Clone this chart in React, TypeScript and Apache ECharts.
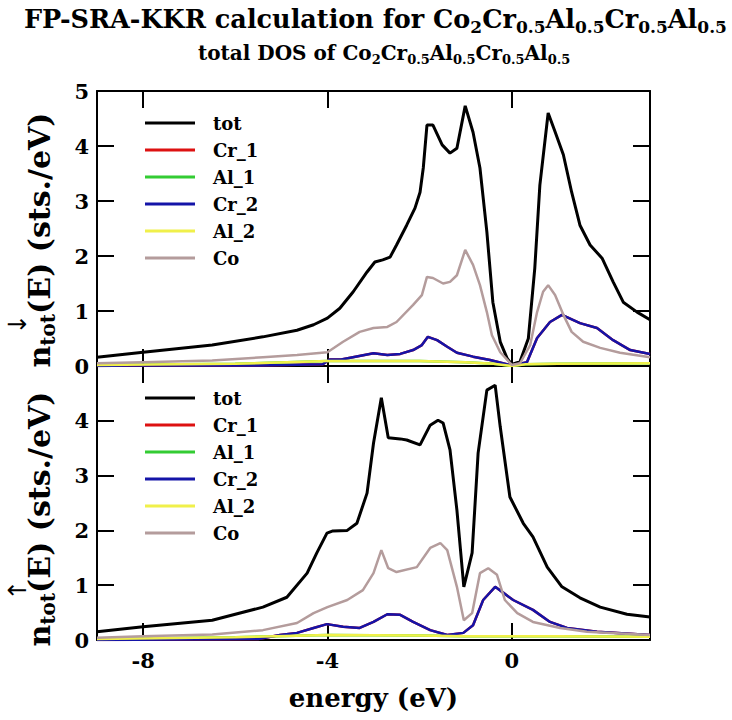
import React, { useEffect, useRef } from 'react';
import * as echarts from 'echarts';

const seriesNames = ['tot', 'Cr_1', 'Al_1', 'Cr_2', 'Al_2', 'Co'];
const seriesColors = ['#000000', '#dd1111', '#33cc33', '#1414a8', '#f0f04a', '#b49c9c'];
const seriesWidths = [3, 2.5, 2.5, 2.5, 2.5, 2.5];
const xTickValues = [-8, -4, 0];

// spin-down panel (top)
const dnTotE = [-9, -8, -6.5, -5.4, -4.66, -4.3, -4.0, -3.73, -3.44, -3.14, -2.97, -2.8, -2.64, -2.5, -2.28, -2.1, -1.99, -1.92, -1.84, -1.71, -1.51, -1.34, -1.19, -1.01, -0.84, -0.69, -0.54, -0.41, -0.25, -0.1, 0, 0.18, 0.36, 0.5, 0.61, 0.79, 0.94, 1.12, 1.3, 1.48, 1.7, 1.96, 2.2, 2.42, 2.72, 3];
const dnTotV = [0.16, 0.25, 0.38, 0.53, 0.65, 0.75, 0.87, 1.05, 1.35, 1.71, 1.89, 1.93, 1.98, 2.2, 2.56, 2.87, 3.16, 3.6, 4.38, 4.38, 4.02, 3.87, 3.96, 4.73, 4.25, 3.6, 2.44, 1.16, 0.44, 0.14, 0.03, 0.08, 0.5, 1.78, 3.29, 4.6, 4.26, 3.84, 3.16, 2.56, 2.2, 1.96, 1.53, 1.16, 0.98, 0.84];
const dnCoE = [-9, -8, -6.5, -5.4, -4.66, -4.0, -3.66, -3.3, -3.0, -2.7, -2.5, -2.14, -1.95, -1.84, -1.71, -1.49, -1.34, -1.19, -1.01, -0.84, -0.69, -0.54, -0.43, -0.25, 0, 0.18, 0.4, 0.55, 0.68, 0.79, 0.94, 1.12, 1.3, 1.55, 1.92, 2.35, 3];
const dnCoV = [0.05, 0.07, 0.1, 0.16, 0.2, 0.25, 0.44, 0.62, 0.69, 0.71, 0.8, 1.11, 1.29, 1.62, 1.6, 1.5, 1.53, 1.65, 2.11, 1.84, 1.47, 0.98, 0.56, 0.25, 0.02, 0.05, 0.38, 0.98, 1.35, 1.47, 1.29, 0.93, 0.62, 0.44, 0.33, 0.24, 0.16];
const dnCrE = [-9, -8.3, -5.5, -4.1, -3.95, -3.7, -3.0, -2.7, -2.42, -2.14, -1.95, -1.82, -1.62, -1.4, -1.19, -0.84, -0.47, 0, 0.33, 0.55, 0.83, 1.09, 1.48, 1.85, 2.2, 2.57, 3];
const dnCrV = [0.0, 0.01, 0.01, 0.03, 0.12, 0.12, 0.23, 0.2, 0.22, 0.29, 0.38, 0.53, 0.47, 0.35, 0.24, 0.17, 0.11, 0.01, 0.07, 0.51, 0.8, 0.93, 0.78, 0.69, 0.47, 0.29, 0.22];
const dnAlE = [-9, -6, -4, -2, -1, -0.4, 0, 0.3, 1, 3];
const dnAlV = [0.02, 0.04, 0.09, 0.09, 0.07, 0.04, 0.0, 0.03, 0.04, 0.05];

// spin-up panel (bottom)
const upTotE = [-9, -8, -6.5, -5.4, -4.88, -4.44, -4.23, -4.01, -3.88, -3.57, -3.36, -3.14, -3.0, -2.83, -2.68, -2.42, -2.28, -1.99, -1.77, -1.6, -1.49, -1.34, -1.19, -1.04, -0.86, -0.73, -0.54, -0.36, -0.25, -0.04, 0.25, 0.46, 0.77, 1.09, 1.48, 1.92, 2.5, 3];
const upTotV = [0.15, 0.24, 0.36, 0.6, 0.78, 1.22, 1.59, 1.95, 1.99, 2.0, 2.13, 2.68, 3.59, 4.42, 3.69, 3.67, 3.65, 3.56, 3.92, 4.01, 3.96, 3.47, 2.37, 0.97, 1.59, 3.41, 4.56, 4.65, 3.89, 2.61, 2.13, 1.88, 1.33, 0.97, 0.77, 0.6, 0.47, 0.42];
const upCoE = [-9, -8, -6.5, -5.4, -4.66, -4.3, -4.0, -3.57, -3.23, -3.0, -2.83, -2.68, -2.5, -2.06, -1.77, -1.55, -1.4, -1.19, -1.04, -0.86, -0.69, -0.51, -0.32, -0.15, 0.12, 0.46, 1.05, 1.63, 3];
const upCoV = [0.04, 0.07, 0.1, 0.18, 0.31, 0.49, 0.6, 0.73, 0.91, 1.22, 1.64, 1.31, 1.24, 1.33, 1.68, 1.77, 1.64, 0.97, 0.36, 0.49, 1.22, 1.31, 1.19, 0.73, 0.49, 0.33, 0.22, 0.15, 0.09];
const upCrE = [-9, -5.5, -5.03, -4.66, -4.3, -4.01, -3.66, -3.3, -3.0, -2.7, -2.42, -2.14, -1.77, -1.4, -1.05, -0.84, -0.62, -0.36, -0.18, 0.03, 0.46, 0.83, 1.2, 1.85, 3];
const upCrV = [0.0, 0.02, 0.09, 0.13, 0.22, 0.29, 0.24, 0.22, 0.33, 0.47, 0.46, 0.33, 0.18, 0.09, 0.13, 0.27, 0.73, 0.97, 0.86, 0.73, 0.55, 0.33, 0.22, 0.15, 0.09];
const upAlE = [-9, -6, -4, -2, -1, 0, 1, 3];
const upAlV = [0.02, 0.05, 0.09, 0.08, 0.07, 0.07, 0.07, 0.06];

const FONT = 'DejaVu Serif';

function pairs(e: number[], v: number[]) {
  return e.map((x, i) => [x, v[i]]);
}

export default function App() {
  const ref = useRef<HTMLDivElement>(null);
  useEffect(() => {
    const chart = echarts.init(ref.current as HTMLDivElement, null, { renderer: 'svg' });
    const panels = [
      { tot: pairs(dnTotE, dnTotV), cr: pairs(dnCrE, dnCrV), al: pairs(dnAlE, dnAlV), co: pairs(dnCoE, dnCoV) },
      { tot: pairs(upTotE, upTotV), cr: pairs(upCrE, upCrV), al: pairs(upAlE, upAlV), co: pairs(upCoE, upCoV) },
    ];
    const series: any[] = [];
    panels.forEach((p, gi) => {
      const byName: Record<string, number[][]> = { tot: p.tot, Cr_1: p.cr, Al_1: p.al, Cr_2: p.cr, Al_2: p.al, Co: p.co };
      seriesNames.forEach((name, k) => {
        series.push({
          type: 'line', name, xAxisIndex: gi * 2, yAxisIndex: gi * 2,
          data: byName[name], showSymbol: false, symbol: 'none', silent: true,
          lineStyle: { color: seriesColors[k], width: seriesWidths[k] },
          itemStyle: { color: seriesColors[k] },
        });
      });
    });

    const line = { show: true, onZero: false, lineStyle: { color: '#000', width: 2 } };
    const tick = { show: true, inside: true, length: 17, lineStyle: { color: '#000', width: 2 } };
    const lbl = { fontFamily: FONT, fontWeight: 'bold', fontSize: 21, color: '#000' };

    const mkX = (gi: number, pos: string, labels: boolean) => ({
      type: 'value', gridIndex: gi, position: pos, min: -9, max: 3,
      axisLine: line,
      axisTick: { ...tick, customValues: xTickValues },
      axisLabel: labels ? { ...lbl, show: true, margin: 10, customValues: xTickValues } : { show: false },
      splitLine: { show: false },
      ...(labels ? {
        name: 'energy (eV)', nameLocation: 'middle', nameGap: 45,
        nameTextStyle: { fontFamily: FONT, fontWeight: 'bold', fontSize: 26, color: '#000' },
      } : {}),
    });
    const mkY = (gi: number, pos: string, labels: boolean, showMax: boolean) => ({
      type: 'value', gridIndex: gi, position: pos, min: 0, max: 5, interval: 1,
      axisLine: line, axisTick: tick,
      axisLabel: labels ? { ...lbl, show: true, margin: 8, showMaxLabel: showMax } : { show: false },
      splitLine: { show: false },
    });

    const richTitle = {
      m: { fontFamily: FONT, fontWeight: 'bold', fontSize: 25.5, lineHeight: 33, color: '#000' },
      s: { fontFamily: FONT, fontWeight: 'bold', fontSize: 17, lineHeight: 17, verticalAlign: 'bottom', color: '#000' },
    };
    const richSub = {
      m: { fontFamily: FONT, fontWeight: 'bold', fontSize: 20, lineHeight: 26, color: '#000' },
      s: { fontFamily: FONT, fontWeight: 'bold', fontSize: 13, lineHeight: 13, verticalAlign: 'bottom', color: '#000' },
    };
    const formula = '{m|Co}{s|2}{m|Cr}{s|0.5}{m|Al}{s|0.5}{m|Cr}{s|0.5}{m|Al}{s|0.5}';

    const yRich = {
      n: { fontFamily: FONT, fontWeight: 'bold', fontSize: 30, lineHeight: 38, color: '#000' },
      t: { fontFamily: FONT, fontWeight: 'bold', fontSize: 20, lineHeight: 20, verticalAlign: 'bottom', color: '#000' },
    };
    const yLabel = (cy: number, arrow: string, ay: number) => [
      {
        type: 'text', x: 39, y: cy, rotation: Math.PI / 2,
        style: { text: '{n|n}{t|tot}{n|(E) (sts./eV)}', rich: yRich, align: 'center', verticalAlign: 'middle', textAlign: 'center', textVerticalAlign: 'middle' },
      },
      {
        type: 'text', x: 17, y: ay, rotation: Math.PI / 2,
        style: { text: arrow, fontFamily: 'DejaVu Sans', fontSize: 25, fill: '#000', align: 'center', verticalAlign: 'middle', textAlign: 'center', textVerticalAlign: 'middle' },
      },
    ];

    chart.setOption({
      animation: false,
      backgroundColor: '#ffffff',
      title: [
        { text: '{m|FP-SRA-KKR calculation for }' + formula, left: 24, top: 2, padding: 0, textStyle: { rich: richTitle } },
        { text: '{m|total DOS of }' + formula, left: 198, top: 40, padding: 0, textStyle: { rich: richSub } },
      ],
      grid: [
        { left: 97, top: 91, width: 553, height: 275 },
        { left: 97, top: 366, width: 553, height: 274 },
      ],
      xAxis: [mkX(0, 'bottom', false), mkX(0, 'top', false), mkX(1, 'bottom', true), mkX(1, 'top', false)],
      yAxis: [mkY(0, 'left', true, true), mkY(0, 'right', false, true), mkY(1, 'left', true, false), mkY(1, 'right', false, true)],
      legend: [113, 388].map((top) => ({
        orient: 'vertical', left: 145, top, padding: 0, itemGap: 7, itemWidth: 50, itemHeight: 3,
        icon: 'rect', data: seriesNames, selectedMode: false,
        textStyle: { fontFamily: FONT, fontWeight: 'bold', fontSize: 18, color: '#000', lineHeight: 20, padding: [0, 0, 0, 13] },
      })),
      graphic: [...yLabel(240, '↓', 324), ...yLabel(519, '↑', 590)],
      series,
    });
    return () => chart.dispose();
  }, []);
  return <div ref={ref} style={{ position: 'absolute', left: 0, top: 0, width: 732, height: 720 }} />;
}
